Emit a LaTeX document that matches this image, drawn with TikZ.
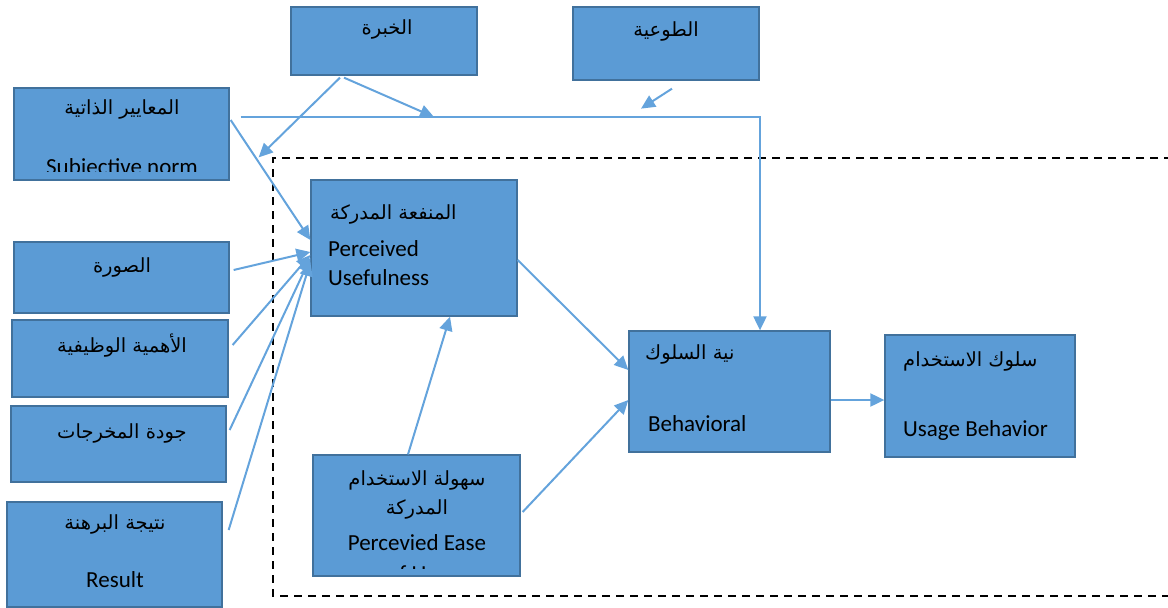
\documentclass[tikz,border=0pt]{standalone}
\usepackage{fontspec}
\setmainfont{Carlito}
\newfontfamily\arabicfont[Script=Arabic]{DejaVu Sans}
\TeXXeTstate=1
\usetikzlibrary{arrows.meta}
\definecolor{boxfill}{HTML}{5B9BD5}
\definecolor{boxline}{HTML}{41719C}
\definecolor{arr}{HTML}{64A3DC}
\tikzset{
  box/.style={draw=boxline, fill=boxfill, line width=1.3pt, rectangle, inner sep=0pt},
  ar/.style={font=\arabicfont\fontsize{19.5}{23}\selectfont, inner sep=0pt},
  en/.style={font=\fontsize{23}{28}\selectfont, inner sep=0pt},
  conn/.style={draw=arr, line width=2pt, -{Triangle[length=14pt,width=13pt]}},
  frame/.style={draw=black, line width=1.8pt, dash pattern=on 8pt off 6pt}
}
\begin{document}
\begin{tikzpicture}[x=1pt,y=-1pt]
\useasboundingbox (0,0) rectangle (1168,608);
% dashed frame
\draw[frame] (1172,158) -- (273,158) -- (273,596) -- (1172,596);
% boxes
\node[box, minimum width=215pt, minimum height=92pt] (sn) at (121.5,134) {};
\node[box, minimum width=186pt, minimum height=68pt] (kh) at (384,41) {};
\node[box, minimum width=186pt, minimum height=73pt] (tw) at (666,43.5) {};
\node[box, minimum width=206pt, minimum height=136pt] (pu) at (414,248) {};
\node[box, minimum width=215pt, minimum height=71pt] (im) at (121.5,277.5) {};
\node[box, minimum width=216pt, minimum height=77pt] (jr) at (120,358.5) {};
\node[box, minimum width=215pt, minimum height=76pt] (oq) at (118.5,444) {};
\node[box, minimum width=215pt, minimum height=105pt] (rd) at (114.5,554.5) {};
\node[box, minimum width=207pt, minimum height=121pt] (eu) at (416.5,515.5) {};
\node[box, minimum width=201pt, minimum height=121pt] (bi) at (729.5,391.5) {};
\node[box, minimum width=190pt, minimum height=122pt] (ub) at (980,396) {};
% texts
\node[ar] (t1) at (122,109) {\beginR المعايير الذاتية\endR};
\begin{scope}
\clip (14,88) rectangle (229,171);
\node[en, anchor=base] (t2) at (122,174) {Subjective norm};
\end{scope}
\node[ar] (t3) at (387,29) {\beginR الخبرة\endR};
\node[ar] (t4) at (666,31) {\beginR الطوعية\endR};
\node[ar, anchor=west] (t5) at (330,214) {\beginR المنفعة  المدركة\endR};
\node[en, anchor=base west] (t6) at (328,256) {Perceived};
\node[en, anchor=base west] (t7) at (328,285) {Usefulness};
\node[ar] (t8) at (122,267) {\beginR الصورة\endR};
\node[ar] (t9) at (122,346) {\beginR الأهمية الوظيفية\endR};
\node[ar] (t10) at (122,433) {\beginR جودة المخرجات\endR};
\node[ar] (t11) at (115,524) {\beginR نتيجة البرهنة\endR};
\node[en, anchor=base] (t12) at (115,587) {Result};
\node[ar] (t13) at (417,480) {\beginR سهولة الاستخدام\endR};
\node[ar] (t14) at (417,509) {\beginR المدركة\endR};
\begin{scope}
\clip (313,455) rectangle (520,568);
\node[en, anchor=base] (t15) at (417,550) {Percevied Ease};
\node[en, anchor=base] (t16) at (417,581) {of Use};
\end{scope}
\node[ar, anchor=west] (t17) at (645,354) {\beginR نية السلوك\endR};
\node[en, anchor=base west] (t18) at (648,431) {Behavioral};
\node[ar, anchor=west] (t19) at (903,361) {\beginR سلوك الاستخدام\endR};
\node[en, anchor=base west] (t20) at (903,436) {Usage Behavior};
% connectors
\coordinate (c1) at (760,117);
\coordinate (m1) at (434,117);
\draw[conn] ([xshift=11pt,yshift=17pt]sn.east) -- (c1) -- (c1 |- bi.north);
\draw[conn] ([xshift=-44pt,yshift=-2pt]kh.south) -- ([xshift=29pt,yshift=-70pt]sn.north east);
\draw[conn] ([xshift=-40pt,yshift=-2pt]kh.south) -- (m1);
\draw[conn] ([xshift=6pt,yshift=-8pt]tw.south) -- ([xshift=-25pt,yshift=-28pt]tw.south);
\draw[conn] ([xshift=1pt,yshift=14pt]sn.east) -- ([yshift=8pt]pu.west);
\draw[conn] ([xshift=4pt,yshift=7.5pt]im.east) -- ([yshift=-4pt]pu.west);
\draw[conn] ([xshift=4pt,yshift=13.5pt]jr.east) -- ([yshift=-7pt]pu.west);
\draw[conn] ([xshift=3pt,yshift=14pt]oq.east) -- ([yshift=-10pt]pu.west);
\draw[conn] ([xshift=6pt,yshift=24.5pt]rd.east) -- ([yshift=-14pt]pu.west);
\draw[conn] ([yshift=-12pt]pu.east) -- ([yshift=21.5pt]bi.west);
\draw[conn] ([xshift=-8.5pt]eu.north) -- ([xshift=36pt]pu.south);
\draw[conn] ([xshift=2pt,yshift=3.5pt]eu.east) -- ([yshift=-8.5pt]bi.west);
\draw[conn] ([yshift=-8.5pt]bi.east) -- ([yshift=-4pt]ub.west);
\end{tikzpicture}
\end{document}
